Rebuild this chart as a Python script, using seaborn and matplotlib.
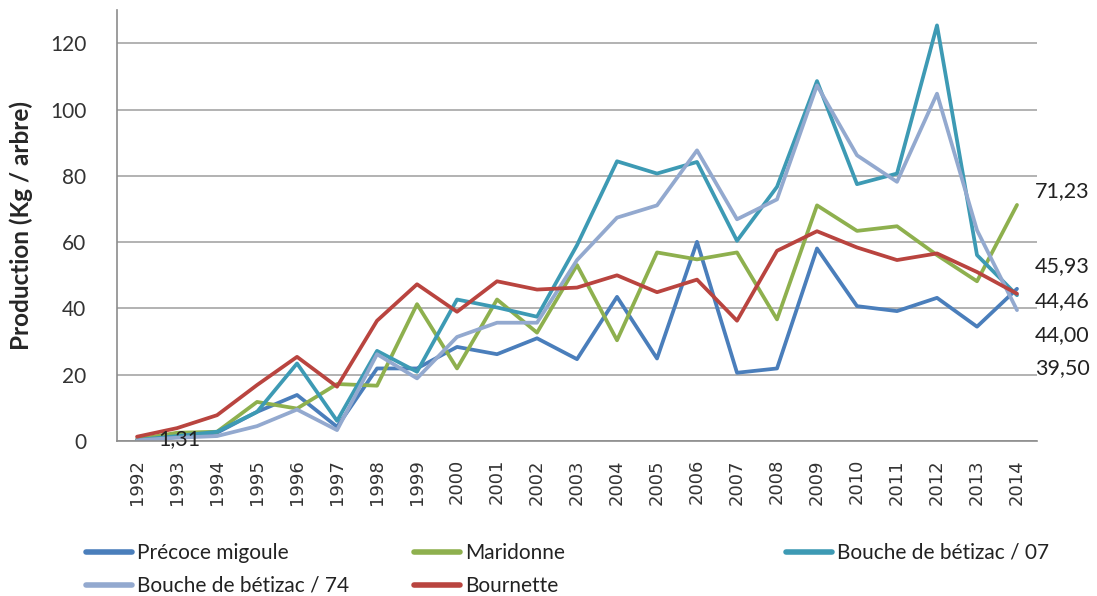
import pandas as pd
import matplotlib.pyplot as plt
import seaborn as sns

# Données
annees = list(range(1992, 2015))

precoce_migoule = [0.3, 1.5, 2.5, 8.8, 13.9, 4.3, 21.9, 21.9, 28.4, 26.2, 31.0, 24.7,
                   43.5, 24.9, 60.1, 20.6, 21.9, 58.1, 40.7, 39.2, 43.2, 34.5, 45.93]
maridonne = [0.5, 2.5, 2.8, 11.8, 9.8, 17.2, 16.7, 41.3, 21.9, 42.7, 32.7, 53.1,
             30.4, 56.9, 54.8, 56.9, 36.7, 71.1, 63.4, 64.8, 56.1, 48.2, 71.23]
bouche_07 = [0.3, 1.5, 2.8, 8.8, 23.4, 6.1, 27.2, 20.9, 42.7, 40.3, 37.5, 59.1,
             84.4, 80.7, 84.2, 60.4, 76.7, 108.6, 77.5, 80.7, 125.4, 56.1, 44.00]
bouche_74 = [0.2, 1.0, 1.5, 4.5, 9.5, 3.3, 26.2, 18.9, 31.4, 35.7, 35.7, 54.6,
             67.4, 71.1, 87.7, 66.9, 72.9, 107.3, 86.2, 78.2, 104.8, 63.6, 39.50]
bournette = [1.31, 3.9, 7.8, 16.9, 25.4, 16.4, 36.3, 47.3, 39.0, 48.2, 45.7, 46.3,
             50.0, 44.9, 48.7, 36.3, 57.4, 63.3, 58.4, 54.6, 56.6, 51.0, 44.46]

series = {
    'Précoce migoule': precoce_migoule,
    'Maridonne': maridonne,
    'Bouche de bétizac / 07': bouche_07,
    'Bouche de bétizac / 74': bouche_74,
    'Bournette': bournette,
}
couleurs = ['#4A7EBB', '#8EB04E', '#3D9AB4', '#93A9CF', '#B9443F']

df = pd.DataFrame([
    {'annee': a, 'variete': nom, 'production': v}
    for nom, vals in series.items() for a, v in zip(annees, vals)
])

sns.set_style('white')
plt.rcParams['font.family'] = ['Lato', 'DejaVu Sans']

fig = plt.figure(figsize=(10.97, 5.96), dpi=100)
ax = fig.add_axes([0.1067, 0.260, 0.8386, 0.723])

sns.lineplot(data=df, x='annee', y='production', hue='variete',
             palette=couleurs, linewidth=2.7, ax=ax, legend=False)

gris = '#8C8C8C'
ax.set_xlim(1991.5, 2014.5)
ax.set_ylim(0, 130)
ax.set_yticks(range(0, 121, 20))
ax.yaxis.grid(True, color='#A6A6A6', linewidth=1.2)
ax.set_axisbelow(True)
for s in ['top', 'right']:
    ax.spines[s].set_visible(False)
for s in ['left', 'bottom']:
    ax.spines[s].set_color(gris)
    ax.spines[s].set_linewidth(1.2)

ax.set_xticks(annees)
ax.set_xticklabels([str(a) for a in annees], rotation=90, fontsize=13,
                   family='DejaVu Sans')
ax.set_xticks([a - 0.5 for a in annees] + [2014.5], minor=True)
ax.tick_params(axis='x', which='major', length=0, pad=13)
ax.tick_params(axis='x', which='minor', length=8, color=gris, width=1.2)
ax.tick_params(axis='y', length=8, color=gris, width=1.2, labelsize=15, pad=14)
for lbl in ax.get_yticklabels():
    lbl.set_color('#333333')
for lbl in ax.get_xticklabels():
    lbl.set_color('#333333')

ax.set_xlabel('')
ax.set_ylabel('Production (Kg / arbre)', fontsize=17.5, fontweight='bold', labelpad=12)

# Étiquettes de données
etiquettes = [
    (maridonne, 14),
    (precoce_migoule, 23),
    (bournette, -7),
    (bouche_07, -40),
    (bouche_74, -58),
]
for vals, dy in etiquettes:
    ax.annotate(f'{vals[-1]:.2f}'.replace('.', ','), xy=(annees[-1], vals[-1]),
                xytext=(18, dy), textcoords='offset pixels', fontsize=15.5,
                color='#222222', va='center', ha='left', annotation_clip=False)
ax.annotate(f'{bournette[0]:.2f}'.replace('.', ','), xy=(annees[0], bournette[0]),
            xytext=(21, -2), textcoords='offset pixels', fontsize=15.5,
            color='#222222', va='center', ha='left')

# Légende en trois colonnes, comme dans Excel
lignes = dict(zip(series.keys(), couleurs))
colonnes = [
    (['Précoce migoule', 'Bouche de bétizac / 74'], 0.071),
    (['Maridonne', 'Bournette'], 0.370),
    (['Bouche de bétizac / 07'], 0.709),
]
for noms, x0 in colonnes:
    handles = [plt.Line2D([], [], color=lignes[n], linewidth=4) for n in noms]
    leg = fig.legend(handles, noms, loc='upper left', bbox_to_anchor=(x0, 0.103),
                     frameon=False, fontsize=15, handlelength=2.2,
                     handletextpad=0.25, labelspacing=0.62, borderaxespad=0)
    for t in leg.get_texts():
        t.set_color('#222222')

fig.savefig('out.png', dpi=100)
